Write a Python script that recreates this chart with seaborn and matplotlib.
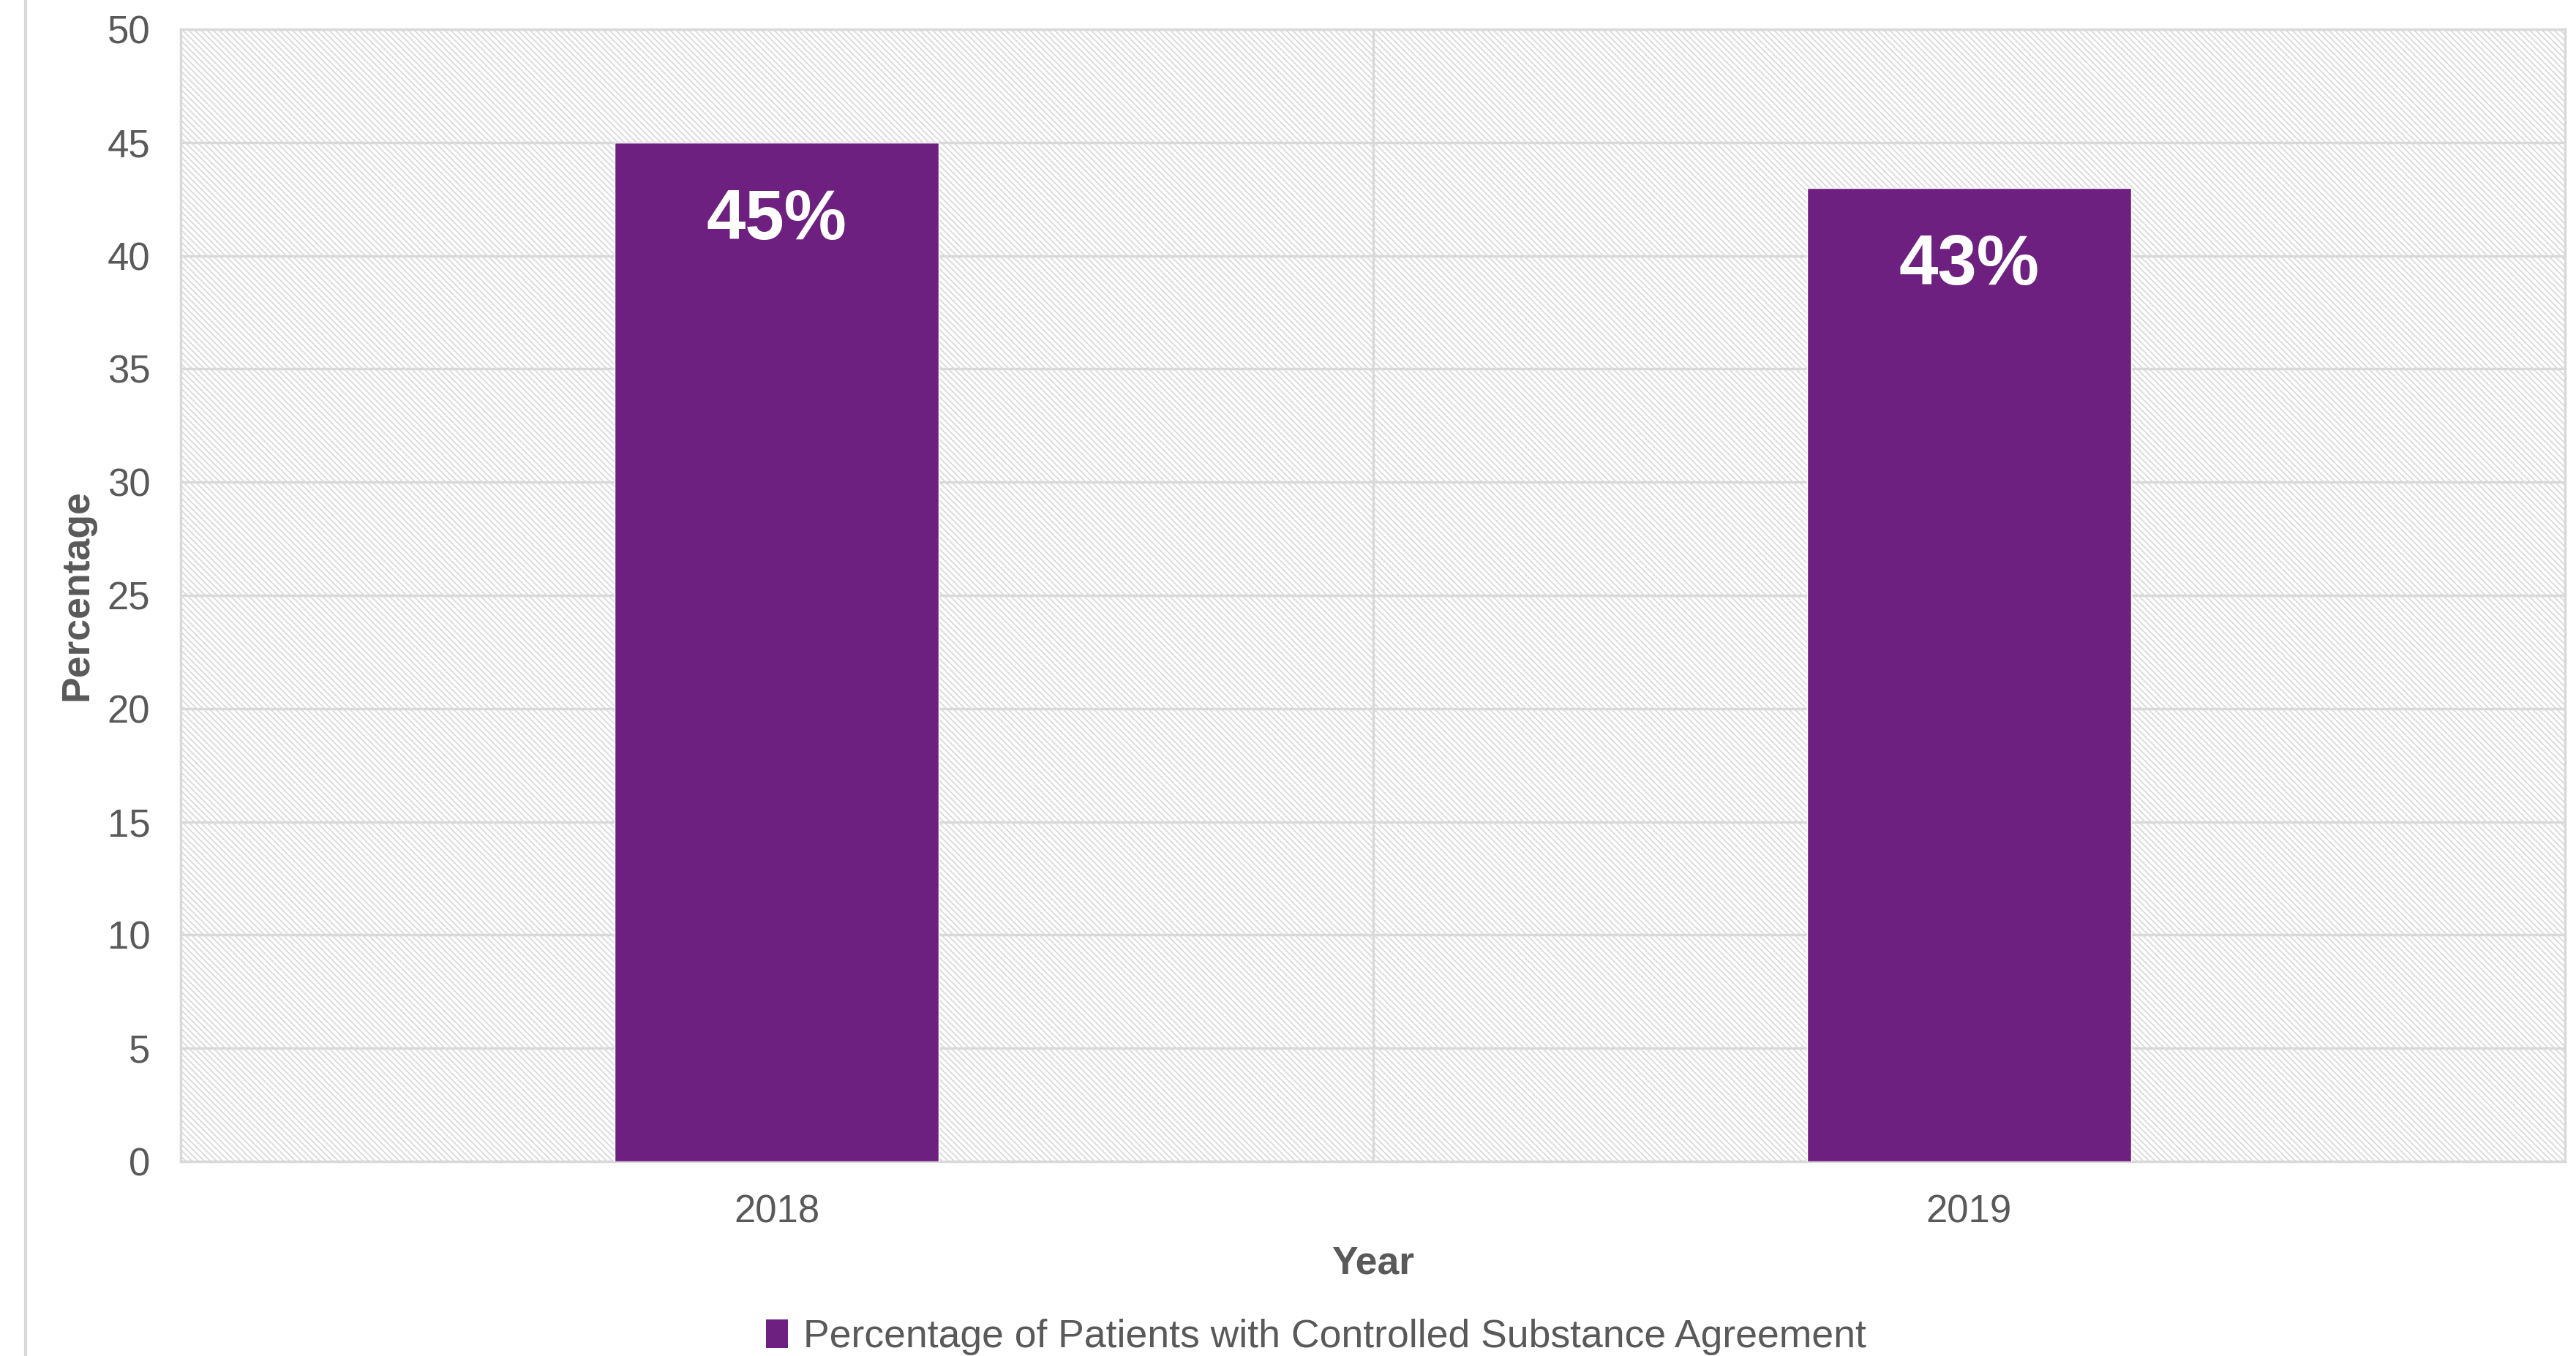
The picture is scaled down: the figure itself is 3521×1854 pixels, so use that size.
import matplotlib
matplotlib.use("Agg")
import matplotlib.pyplot as plt
import seaborn as sns
import pandas as pd
from matplotlib.lines import Line2D
from matplotlib.patches import Patch

years = ["2018", "2019"]
values = [45, 43]
labels = ["45%", "43%"]
series_name = "Percentage of Patients with Controlled Substance Agreement"
yticks = [0, 5, 10, 15, 20, 25, 30, 35, 40, 45, 50]

BAR = "#6E2080"
GRID = "#D9D9D9"
TXT = "#595959"

sns.set_theme(style="white")
plt.rcParams["font.family"] = ["Liberation Sans", "DejaVu Sans"]
plt.rcParams["hatch.color"] = GRID
plt.rcParams["hatch.linewidth"] = 1.3

df = pd.DataFrame({"Year": years, "Percentage": values})

W, H = 3521, 1854
L, R, T, B = 247, 3506, 40, 1588
fig = plt.figure(figsize=(W / 100, H / 100), dpi=100)
ax = fig.add_axes([L / W, 1 - B / H, (R - L) / W, (B - T) / H])

ax.patch.set_facecolor("white")
ax.patch.set_hatch("\\\\\\\\")
ax.patch.set_edgecolor(GRID)

sns.barplot(data=df, x="Year", y="Percentage", color=BAR, width=0.272,
            saturation=1, ax=ax, zorder=3)

ax.set_ylim(0, 50)
ax.set_xlim(-0.5, 1.5)
ax.set_yticks(yticks)
ax.set_yticklabels([str(t) for t in yticks])
ax.set_xticks([0, 1])
ax.set_xticks([0.5], minor=True)
ax.yaxis.grid(True, color=GRID, linewidth=2.5, zorder=1)
ax.xaxis.grid(True, which="minor", color=GRID, linewidth=2.5, zorder=1)
ax.xaxis.grid(False, which="major")
ax.set_axisbelow(True)
for s in ax.spines.values():
    s.set_visible(True)
    s.set_color(GRID)
    s.set_linewidth(2.5)

ax.tick_params(axis="both", which="both", length=0, labelsize=38, colors=TXT)
ax.tick_params(axis="y", pad=30)
ax.tick_params(axis="x", pad=32)

ax.set_xlabel("Year", fontsize=38.5, fontweight="bold", color=TXT)
ax.xaxis.set_label_coords(0.5, -(1727 - B) / (B - T), transform=ax.transAxes)
ax.xaxis.label.set_va("center")
ax.set_ylabel("Percentage", fontsize=38.5, fontweight="bold", color=TXT)
ax.yaxis.set_label_coords(-(L - 105) / (R - L), 0.5)
ax.yaxis.label.set_va("center")

for i, (v, lab) in enumerate(zip(values, labels)):
    ax.text(i, v - 3.45, lab, ha="center", va="center", color="white",
            fontsize=69, fontweight="bold", zorder=5)

handle = Patch(facecolor=BAR, edgecolor="none")
fig.legend([handle], [series_name], loc="center",
           bbox_to_anchor=(0.511, 1 - 1828 / H),
           frameon=False, fontsize=38.5, labelcolor=TXT, handlelength=0.55,
           handleheight=0.75, handletextpad=0.4)

fig.add_artist(Line2D([35 / W, 35 / W], [0, 1], transform=fig.transFigure,
                      color=GRID, linewidth=3))

fig.savefig("out.png", dpi=100, facecolor="white")
